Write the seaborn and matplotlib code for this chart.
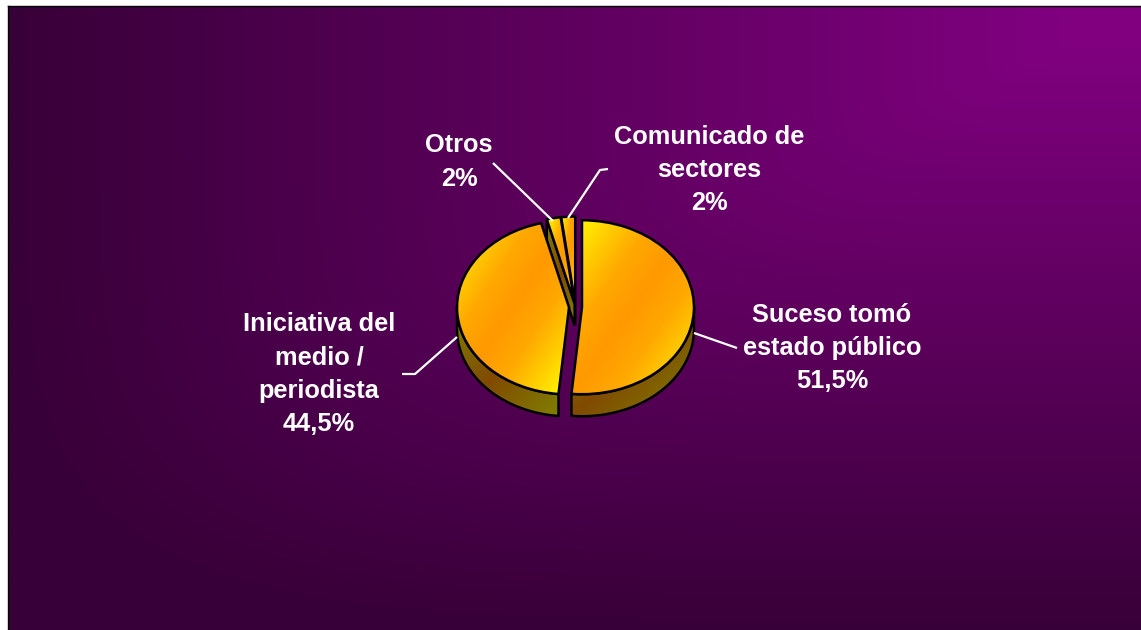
import numpy as np
import matplotlib
matplotlib.use("Agg")
import matplotlib.pyplot as plt
from matplotlib.patches import Polygon
import seaborn as sns

labels = ["Suceso tomó\nestado público\n51,5%",
          "Iniciativa del\nmedio /\nperiodista\n44,5%",
          "Otros\n2%",
          "Comunicado de\nsectores\n2%"]
values = [51.5, 44.5, 2, 2]
explode = [0.058, 0.058, 0.04, 0.04]

W, H = 1141, 630
PX, PY = 575.5, 307     # pie centre in pixels
RX, RY = 112, 87        # radii in pixels
DEPTH = 22 / RY

label_pos = [(832, 348), (319, 374), (459, 162), (709, 170)]
leaders = [[(694, 333), (737, 348)],
           [(457, 337), (415, 374), (402, 374)],
           [(493, 163), (553, 221)],
           [(608, 169), (600, 170), (568, 218)]]

sns.set_theme(style="white")
plt.rcParams["font.family"] = ["Liberation Sans", "DejaVu Sans"]

top_cmap = sns.blend_palette(["#ffff00", "#ffd000", "#ffa800", "#ff9900", "#ffa800", "#ffd000", "#ffff00"], as_cmap=True)
wall_cmap = sns.blend_palette(["#808000", "#804a00", "#808000"], as_cmap=True)
bg_cmap = sns.blend_palette(["#800080", "#380038"], as_cmap=True)

fig = plt.figure(figsize=(W / 100, H / 100), dpi=100, facecolor="white")

# panel with a gradient spreading from the upper right
bg = fig.add_axes([8 / W, 0, (W - 8) / W, (H - 6) / H])
yy, xx = np.mgrid[0:1:300j, 0:1:500j]
cx, cy = 0.93, 0.06
dx = np.clip((cx - xx) / cx, 0, 1)
dy = np.clip((yy - cy) / (1 - cy), 0, 1)
field = np.clip((dx ** 5 + dy ** 5) ** 0.2, 0, 1)
bg.imshow(field, cmap=bg_cmap, vmin=0, vmax=1, aspect="auto", extent=(0, 1, 1, 0))
bg.set_xticks([])
bg.set_yticks([])
for side, vis in zip(["left", "top", "right", "bottom"], [True, True, False, False]):
    bg.spines[side].set_visible(vis)
    bg.spines[side].set_color("black")
    bg.spines[side].set_linewidth(1.0)

ax = fig.add_axes([0, 0, 1, 1])
ax.patch.set_alpha(0)
ax.axis("off")

wedges, _ = ax.pie(values, explode=explode, startangle=90,
                   counterclock=False, radius=1, normalize=True,
                   wedgeprops=dict(edgecolor="black", linewidth=1.8))
ax.set_aspect("auto")


def fill(patch, cmap, z):
    patch.set_zorder(z + 0.1)
    xy = patch.get_path().vertices if isinstance(patch, Polygon) else None
    if xy is None:
        xy = patch.get_transform().transform(patch.get_path().vertices)
        xy = ax.transData.inverted().transform(xy)
    x0, y0 = xy.min(axis=0)
    x1, y1 = xy.max(axis=0)
    v, u = np.mgrid[0:1:200j, 0:1:200j]
    im = ax.imshow((u + v) / 2, cmap=cmap, vmin=0, vmax=1, aspect="auto",
                   extent=(x0, x1, y0, y1), origin="upper", zorder=z,
                   interpolation="bilinear")
    im.set_clip_path(patch)
    patch.set_facecolor("none")
    return im


ax.set_xlim(-PX / RX, (W - PX) / RX)
ax.set_ylim((PY - H) / RY, PY / RY)

# paint back slices first, the front ones over them
order = [3, 2, 1, 0]
z = 2
for i in order:
    w = wedges[i]
    c = np.array(w.center)
    t1, t2 = w.theta1, w.theta2
    # front-facing part of the rim
    ts = np.radians(np.linspace(t1, t2, 240))
    front = ts[np.sin(ts) < 0.02]
    if front.size > 1:
        arc = np.c_[c[0] + w.r * np.cos(front), c[1] + w.r * np.sin(front)]
        low = arc[::-1] - [0, DEPTH]
        wall = Polygon(np.r_[arc, low], closed=True, edgecolor="black", linewidth=1.8,
                       joinstyle="round")
        ax.add_patch(wall)
        fill(wall, wall_cmap, z)
    if values[i] < 5:
        a = np.radians(t2)
        edge = c + w.r * np.array([np.cos(a), np.sin(a)])
        cut = Polygon([c, edge, edge - [0, DEPTH], c - [0, DEPTH]], closed=True,
                      edgecolor="black", linewidth=1.8)
        ax.add_patch(cut)
        fill(cut, wall_cmap, z)
    z += 1
    fill(w, top_cmap, z)
    z += 1

ax.set_xlim(-PX / RX, (W - PX) / RX)
ax.set_ylim((PY - H) / RY, PY / RY)


def to_data(px, py):
    return (px - PX) / RX, (PY - py) / RY


for pts in leaders:
    d = np.array([to_data(*p) for p in pts])
    ax.plot(d[:, 0], d[:, 1], color="white", lw=1.6, zorder=25, solid_capstyle="butt")

for text, (px, py) in zip(labels, label_pos):
    x, y = to_data(px, py)
    ax.text(x, y, text, color="white", fontsize=18.3, fontweight="bold", ha="center",
            va="center", linespacing=1.49, zorder=30)

fig.savefig("out.png", dpi=100, facecolor="white")
